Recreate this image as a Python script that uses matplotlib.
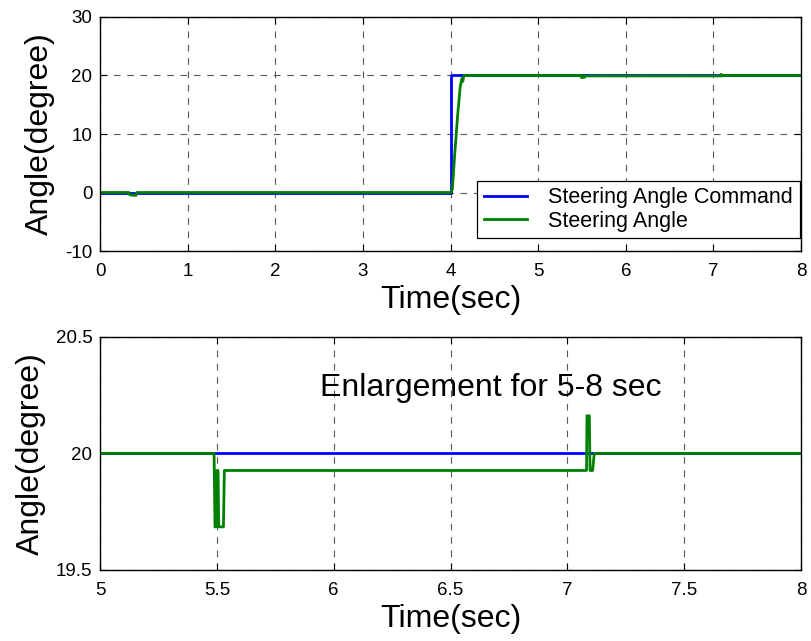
import numpy as np
import matplotlib.pyplot as plt

plt.rcParams['font.family'] = ['Liberation Sans', 'DejaVu Sans']
plt.rcParams['axes.unicode_minus'] = False

# steering command (step at 4 s)
t_cmd = [0, 4.0, 4.0, 8]
cmd = [0, 0, 20, 20]

# measured steering angle
t_act = [0, 0.33, 0.34, 0.41, 0.42, 4.0, 4.02, 4.05, 4.08, 4.11, 4.13, 4.14, 4.15, 4.17,
         5.488, 5.492, 5.497, 5.500, 5.505, 5.508, 5.528, 5.532,
         7.082, 7.084, 7.094, 7.097, 7.108, 7.115, 8]
act = [0, 0, -0.4, -0.5, 0, 0, 0.5, 7, 13, 18, 19.5, 19, 19.9, 20,
       20, 19.685, 19.685, 19.927, 19.927, 19.685, 19.685, 19.927,
       19.927, 20.162, 20.162, 19.927, 19.927, 20, 20]

blue = (0, 0, 1)
green = (0, 0.5, 0)

fig = plt.figure(figsize=(8.12, 6.41), dpi=100)
ax1 = fig.add_axes([0.1232, 0.6084, 0.8633, 0.3651])
ax2 = fig.add_axes([0.1232, 0.1108, 0.8633, 0.3635])


def style(ax):
    ax.grid(True, color='0.35', linestyle=(0, (6, 6)), linewidth=0.8)
    ax.tick_params(direction='in', labelsize=13.5, length=5, top=True, right=True)
    ax.tick_params(axis='x', pad=8.5)
    ax.tick_params(axis='y', pad=5.5)
    for s in ax.spines.values():
        s.set_linewidth(1.0)
    ax.set_xlabel('Time(sec)', fontsize=23, labelpad=4)
    ax.set_ylabel('Angle(degree)', fontsize=23, labelpad=7)


ax1.plot(t_cmd, cmd, color=blue, lw=2, label='Steering Angle Command')
ax1.plot(t_act, act, color=green, lw=2, label='Steering Angle')
ax1.set_xlim(0, 8)
ax1.set_ylim(-10, 30)
ax1.set_xticks(range(0, 9))
ax1.set_yticks([-10, 0, 10, 20, 30])
style(ax1)
leg = ax1.legend(loc='lower right', bbox_to_anchor=(0.998, 0.055), fontsize=15.5,
                 fancybox=False, edgecolor='black', framealpha=1,
                 handlelength=2.0, borderpad=0.3, labelspacing=0.12,
                 handletextpad=1.0, borderaxespad=0)
leg.get_frame().set_linewidth(0.9)

ax2.plot(t_cmd, cmd, color=blue, lw=2)
ax2.plot(t_act, act, color=green, lw=2)
ax2.set_xlim(5, 8)
ax2.set_ylim(19.5, 20.5)
ax2.set_xticks([5, 5.5, 6, 6.5, 7, 7.5, 8])
ax2.set_xticklabels(['5', '5.5', '6', '6.5', '7', '7.5', '8'])
ax2.set_yticks([19.5, 20, 20.5])
ax2.set_yticklabels(['19.5', '20', '20.5'])
style(ax2)
ax2.text(6.67, 20.28, 'Enlargement for 5-8 sec', fontsize=23, ha='center', va='center')

fig.savefig('out.png', dpi=100)
